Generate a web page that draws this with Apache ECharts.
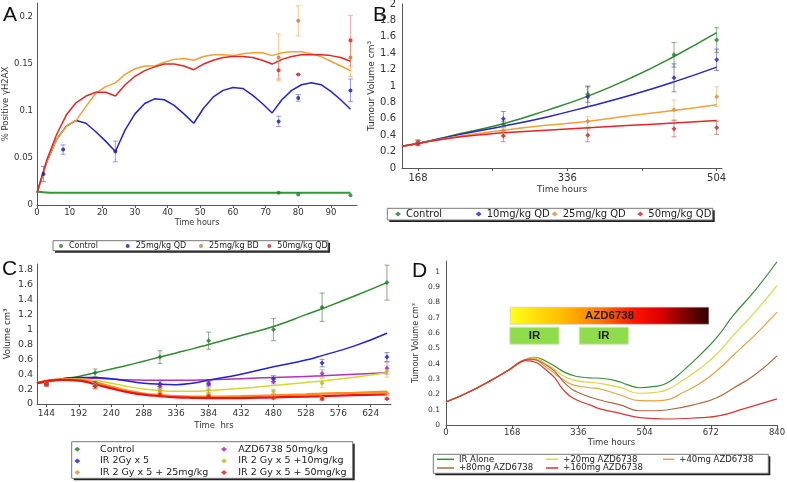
<!DOCTYPE html>
<html>
<head>
<meta charset="utf-8">
<script src="https://cdn.jsdelivr.net/npm/echarts@6/dist/echarts.min.js"></script>
<style>
html, body { margin: 0; padding: 0; background: #fff; }
#chart { width: 787px; height: 482px; }
</style>
</head>
<body>
<div id="chart"></div>
<script>
// ---------- A: % positive yH2AX, 0-96 h ----------
const aHours = [0, 3, 6, 9, 12, 15, 18, 21, 24, 27, 30, 33, 36, 39, 42, 45, 48, 51, 54, 57, 60, 63, 66, 69, 72, 75, 78, 81, 84, 87, 90, 93, 96];
const aQd25Fit = [0.013, 0.046, 0.070, 0.084, 0.090, 0.087, 0.078, 0.068, 0.057, 0.080, 0.097, 0.108, 0.113, 0.112, 0.106, 0.097, 0.087, 0.103, 0.115, 0.122, 0.125, 0.124, 0.117, 0.108, 0.098, 0.112, 0.122, 0.128, 0.130, 0.128, 0.121, 0.112, 0.102];
const aBd25Fit = [0.013, 0.046, 0.070, 0.084, 0.090, 0.105, 0.119, 0.126, 0.130, 0.139, 0.145, 0.148, 0.148, 0.152, 0.155, 0.156, 0.154, 0.158, 0.160, 0.160, 0.159, 0.161, 0.162, 0.162, 0.159, 0.162, 0.163, 0.163, 0.161, 0.158, 0.153, 0.148, 0.143];
const aQd50Fit = [0.013, 0.048, 0.075, 0.096, 0.109, 0.116, 0.120, 0.120, 0.116, 0.128, 0.137, 0.143, 0.147, 0.150, 0.150, 0.148, 0.144, 0.150, 0.154, 0.157, 0.158, 0.158, 0.157, 0.154, 0.150, 0.155, 0.158, 0.160, 0.160, 0.160, 0.159, 0.157, 0.153];
const aControlFitHours = [0, 4, 96];
const aControlFit = [0.014, 0.013, 0.013];

const aControlT = [74, 80, 96];
const aControlMean = [0.013, 0.0112, 0.0105];
const aQd25T = [2, 8, 24, 74, 80, 96];
const aQd25Mean = [0.033, 0.059, 0.057, 0.089, 0.114, 0.122];
const aQd25Err = [0.008, 0.005, 0.011, 0.0055, 0.0035, 0.012];
const aBd25T = [74, 80, 96];
const aBd25Mean = [0.157, 0.196, 0.157];
const aBd25Err = [0.025, 0.016, 0.02];
const aQd50T = [74, 80, 96];
const aQd50Mean = [0.1435, 0.139, 0.175];
const aQd50Err = [0.0095, 0, 0.027];

const aXTicks = [0, 10, 20, 30, 40, 50, 60, 70, 80, 90];
const aYTicks = [0, 0.05, 0.1, 0.15, 0.2];

// ---------- B: tumour volume, 168-504 h ----------
const bHoursFit = [150, 168, 216, 264, 312, 360, 408, 456, 504];
const bControlFit = [0.265, 0.30, 0.42, 0.54, 0.70, 0.88, 1.10, 1.36, 1.65];
const bQd10Fit = [0.265, 0.30, 0.41, 0.51, 0.62, 0.75, 0.89, 1.05, 1.23];
const bQd25Fit = [0.265, 0.30, 0.39, 0.46, 0.52, 0.57, 0.64, 0.70, 0.77];
const bQd50Fit = [0.265, 0.30, 0.38, 0.43, 0.46, 0.49, 0.52, 0.55, 0.58];

const bHours = [168, 264, 359, 456, 504];
const bControlMean = [0.31, 0.53, 0.90, 1.38, 1.56];
const bControlErr = [0.03, 0.04, 0.10, 0.15, 0.15];
const bQd10Mean = [0.31, 0.60, 0.87, 1.10, 1.32];
const bQd10Err = [0.03, 0.09, 0.12, 0.17, 0.13];
const bQd25Mean = [0.31, 0.45, 0.57, 0.71, 0.87];
const bQd25Err = [0.03, 0.05, 0.06, 0.12, 0.12];
const bQd50Mean = [0.30, 0.39, 0.40, 0.48, 0.49];
const bQd50Err = [0.03, 0.07, 0.08, 0.10, 0.08];

const bXTicks = [168, 336, 504];
const bXTickMarks = [168, 252, 336, 420, 504];
const bYTicks = [0, 0.2, 0.4, 0.6, 0.8, 1, 1.2, 1.4, 1.6, 1.8, 2];

// ---------- C: volume with IR +/- AZD6738 ----------
const cHoursFit = [130, 168, 192, 216, 240, 264, 288, 312, 336, 360, 384, 432, 480, 528, 552, 600, 648];
const cControlFit = [0.28, 0.34, 0.37, 0.42, 0.47, 0.52, 0.575, 0.63, 0.685, 0.74, 0.80, 0.92, 1.04, 1.20, 1.28, 1.45, 1.63];
const cIrFit = [0.28, 0.34, 0.355, 0.355, 0.34, 0.31, 0.28, 0.265, 0.26, 0.28, 0.32, 0.40, 0.50, 0.59, 0.65, 0.78, 0.95];
const cAzdFit = [0.28, 0.34, 0.35, 0.345, 0.335, 0.325, 0.32, 0.318, 0.318, 0.32, 0.325, 0.34, 0.355, 0.37, 0.38, 0.40, 0.42];
const cIr10Fit = [0.28, 0.335, 0.335, 0.32, 0.28, 0.235, 0.20, 0.18, 0.17, 0.17, 0.18, 0.21, 0.25, 0.29, 0.31, 0.36, 0.42];
const cIr25Fit = [0.28, 0.33, 0.325, 0.29, 0.235, 0.18, 0.14, 0.12, 0.105, 0.10, 0.10, 0.105, 0.115, 0.13, 0.14, 0.15, 0.165];
const cIr50Fit = [0.28, 0.325, 0.315, 0.265, 0.21, 0.16, 0.125, 0.105, 0.09, 0.083, 0.08, 0.08, 0.09, 0.10, 0.105, 0.12, 0.13];

const cHours = [144, 216, 312, 384, 480, 552, 648];
const cControlMean = [0.27, 0.42, 0.63, 0.85, 1.00, 1.30, 1.63];
const cControlErr = [0.03, 0.05, 0.085, 0.115, 0.15, 0.19, 0.235];
const cIrMean = [0.27, 0.27, 0.27, 0.27, 0.34, 0.55, 0.63];
const cIrErr = [0.03, 0.03, 0.04, 0.03, 0.04, 0.05, 0.06];
const cAzdMean = [0.27, 0.26, 0.24, 0.28, 0.30, 0.41, 0.48];
const cAzdErr = [0.02, 0.03, 0.03, 0.03, 0.03, 0.05, 0.08];
const cIr10Mean = [0.27, 0.26, 0.18, 0.19, 0.17, 0.28, 0.44];
const cIr10Err = [0.02, 0.03, 0.03, 0.03, 0.03, 0.06, 0.08];
const cIr25Mean = [0.27, 0.24, 0.16, 0.13, 0.11, 0.08, 0.14];
const cIr25Err = [0.02, 0.04, 0.03, 0.02, 0.02, 0.02, 0.02];
const cIr50Mean = [0.27, 0.24, 0.12, 0.10, 0.08, 0.07, 0.07];
const cIr50Err = [0.02, 0.03, 0.02, 0.02, 0.01, 0.02, 0.01];

const cXTicks = [144, 192, 240, 288, 336, 384, 432, 480, 528, 576, 624];
const cYTicks = [0, 0.2, 0.4, 0.6, 0.8, 1, 1.2, 1.4, 1.6, 1.8];

// ---------- D: simulated tumour volume ----------
const dIrAlone = [[0, 0.15], [70, 0.23], [154, 0.35], [190, 0.41], [222, 0.442], [262, 0.405], [300, 0.345], [330, 0.318], [365, 0.308], [391, 0.305], [430, 0.29], [462, 0.262], [492, 0.243], [525, 0.25], [560, 0.272], [600, 0.35], [645, 0.458], [690, 0.58], [729, 0.715], [785, 0.88], [840, 1.065]];
const dPlus20 = [[0, 0.15], [70, 0.23], [154, 0.35], [190, 0.41], [218, 0.438], [260, 0.39], [300, 0.318], [330, 0.29], [365, 0.278], [391, 0.272], [442, 0.245], [492, 0.207], [530, 0.213], [560, 0.229], [600, 0.29], [645, 0.37], [690, 0.47], [729, 0.585], [785, 0.74], [840, 0.91]];
const dPlus40 = [[0, 0.15], [70, 0.23], [154, 0.35], [190, 0.41], [214, 0.433], [258, 0.37], [295, 0.30], [323, 0.262], [365, 0.243], [391, 0.235], [442, 0.196], [492, 0.159], [530, 0.158], [560, 0.164], [600, 0.21], [645, 0.272], [690, 0.36], [729, 0.455], [785, 0.59], [840, 0.737]];
const dPlus80 = [[0, 0.15], [70, 0.23], [154, 0.35], [190, 0.415], [208, 0.428], [264, 0.375], [306, 0.262], [340, 0.207], [391, 0.163], [442, 0.131], [492, 0.093], [530, 0.093], [560, 0.098], [645, 0.142], [687, 0.178], [729, 0.24], [785, 0.33], [840, 0.451]];
const dPlus160 = [[0, 0.15], [70, 0.23], [154, 0.35], [185, 0.405], [202, 0.42], [264, 0.338], [298, 0.229], [323, 0.174], [365, 0.131], [391, 0.105], [442, 0.076], [492, 0.048], [560, 0.039], [645, 0.048], [695, 0.061], [755, 0.105], [840, 0.17]];
const dDrugWindow = [163, 667];
const dIrWindows = [[162, 287], [338, 463]];

const dXTicks = [0, 168, 336, 504, 672, 840];
const dYTicks = [0, 0.1, 0.2, 0.3, 0.4, 0.5, 0.6, 0.7, 0.8, 0.9, 1];

// ---------- helpers ----------
const FONT = 'DejaVu Sans';
const AX = '#555';

function pairs(xs, ys) { return xs.map((x, i) => [x, ys[i]]); }
function ranges(xs, ys, es) { return xs.map((x, i) => [x, ys[i] - es[i], ys[i] + es[i]]); }

function fitLine(g, xs, ys, color, width, smooth) {
    return {
        type: 'line', xAxisIndex: g, yAxisIndex: g, data: pairs(xs, ys),
        showSymbol: false, smooth: smooth, silent: true, z: 2,
        lineStyle: { color: color, width: width }, itemStyle: { color: color }
    };
}
function dots(g, name, xs, ys, color, symbol, size) {
    return {
        type: 'scatter', name: name, xAxisIndex: g, yAxisIndex: g, data: pairs(xs, ys),
        symbol: symbol, symbolSize: size, itemStyle: { color: color }, z: 4, silent: true
    };
}
function errBars(g, xs, ys, es, color) {
    return {
        type: 'custom', xAxisIndex: g, yAxisIndex: g, data: ranges(xs, ys, es), z: 3, silent: true,
        encode: { x: 0, y: [1, 2] },
        renderItem: function (params, api) {
            const x = api.value(0);
            const lo = api.coord([x, api.value(1)]);
            const hi = api.coord([x, api.value(2)]);
            const c = 2.5;
            const st = { stroke: color, lineWidth: 1 };
            return {
                type: 'group', children: [
                    { type: 'line', shape: { x1: lo[0], y1: lo[1], x2: hi[0], y2: hi[1] }, style: st },
                    { type: 'line', shape: { x1: lo[0] - c, y1: lo[1], x2: lo[0] + c, y2: lo[1] }, style: st },
                    { type: 'line', shape: { x1: hi[0] - c, y1: hi[1], x2: hi[0] + c, y2: hi[1] }, style: st }
                ]
            };
        }
    };
}
function axis(o) {
    return {
        type: 'value', gridIndex: o.g, min: o.min, max: o.max,
        name: o.name, nameLocation: 'middle', nameGap: o.nameGap,
        nameTextStyle: { fontFamily: FONT, fontSize: o.nameSize, color: '#333' },
        axisLine: { show: true, onZero: false, lineStyle: { color: AX, width: 1 } },
        axisTick: { show: o.tick !== false, length: 3, lineStyle: { color: AX }, customValues: o.tickMarks || o.ticks },
        axisLabel: {
            customValues: o.ticks, fontFamily: FONT, fontSize: o.labelSize, color: '#333',
            margin: o.margin, formatter: v => '' + v
        },
        splitLine: { show: false }
    };
}
// one legend per entry so each sits where the reference puts it
function legendItem(name, left, top, w, h, icon, fs, textPad) {
    return {
        show: true, left: left, top: top, padding: 0, itemGap: 0, itemWidth: w, itemHeight: h,
        icon: icon, selectedMode: false, data: [name],
        formatter: n => n.split('|')[1],
        textStyle: { fontFamily: FONT, fontSize: fs, color: '#222', padding: [0, 0, 0, textPad || 0] }
    };
}
function legendBox(x, y, w, h) {
    return [
        { type: 'rect', shape: { x: x + 2, y: y + 2, width: w, height: h }, style: { fill: '#222' }, z: 0 },
        { type: 'rect', shape: { x: x, y: y, width: w, height: h }, style: { fill: '#fff', stroke: '#777', lineWidth: 1 }, z: 1 }
    ];
}
function panelLetter(t, x, y) {
    return {
        type: 'text', x: x, y: y, z: 5,
        style: { text: t, fontFamily: 'Liberation Sans', fontSize: 21, fill: '#111', textVerticalAlign: 'top', verticalAlign: 'top' }
    };
}

// ---------- colours ----------
const A_COL = { control: '#2e9a3a', qd25: '#2323d0', bd25: '#f5a033', qd50: '#e52525' };
const B_COL = { control: '#2e8b2e', qd10: '#2424c8', qd25: '#f4a038', qd50: '#e62424' };
const C_COL = { control: '#2e8b2e', ir: '#2020dd', azd: '#b030c0', ir10: '#d6d630', ir25: '#f59020', ir50: '#f01010' };
const D_COL = { alone: '#3a8a40', p20: '#d8d848', p40: '#eea040', p80: '#b06840', p160: '#dd3535' };

const chart = echarts.init(document.getElementById('chart'), null, { renderer: 'canvas' });

const irLabel = { show: true, position: 'inside', formatter: '{b}', fontFamily: 'Liberation Sans', fontWeight: 'bold', fontSize: 11.5, color: '#222' };
const irStyle = { color: '#8fdc4c', opacity: 1, borderColor: '#cfe8b0', borderWidth: 1 };
const drugGradient = {
    type: 'linear', x: 0, y: 0, x2: 1, y2: 0,
    colorStops: [
        { offset: 0, color: '#ffff1a' }, { offset: 0.25, color: '#ffc000' }, { offset: 0.45, color: '#ff7a00' },
        { offset: 0.62, color: '#ff1500' }, { offset: 0.75, color: '#e00000' }, { offset: 0.9, color: '#700000' },
        { offset: 1, color: '#2e0000' }
    ]
};

const option = {
    animation: false,
    backgroundColor: '#fff',
    grid: [
        { left: 37, top: 3, width: 320, height: 202, containLabel: false, outerBoundsMode: 'none' },
        { left: 402, top: 4, width: 320, height: 164, containLabel: false, outerBoundsMode: 'none' },
        { left: 37, top: 264, width: 354, height: 140, containLabel: false, outerBoundsMode: 'none' },
        { left: 446, top: 261, width: 331, height: 164, containLabel: false, outerBoundsMode: 'none' }
    ],
    xAxis: [
        axis({ g: 0, min: 0, max: 98, ticks: aXTicks, name: 'Time hours', nameGap: 14, nameSize: 8, labelSize: 8.5, margin: 3 }),
        axis({ g: 1, min: 150, max: 510, ticks: bXTicks, tickMarks: bXTickMarks, name: 'Time hours', nameGap: 17, nameSize: 9, labelSize: 10, margin: 5 }),
        axis({ g: 2, min: 130, max: 654, ticks: cXTicks, name: 'Time  hrs', nameGap: 17, nameSize: 8.5, labelSize: 9, margin: 5 }),
        axis({ g: 3, min: 0, max: 840, ticks: dXTicks, name: 'Time hours', nameGap: 11, nameSize: 8.5, labelSize: 8.5, margin: 3 })
    ],
    yAxis: [
        axis({ g: 0, min: 0, max: 0.215, ticks: aYTicks, name: '% Positive γH2AX', nameGap: 17, nameSize: 8.5, labelSize: 8.5, margin: 4, tick: false }),
        axis({ g: 1, min: 0, max: 2, ticks: bYTicks, name: 'Tumour Volume cm³', nameGap: 14, nameSize: 9, labelSize: 10, margin: 6, tick: false }),
        axis({ g: 2, min: 0, max: 1.88, ticks: cYTicks, name: 'Volume cm³', nameGap: 25, nameSize: 8.5, labelSize: 9.5, margin: 4, tick: false }),
        axis({ g: 3, min: 0, max: 1.07, ticks: dYTicks, name: 'Tumour Volume cm³', nameGap: 26, nameSize: 8, labelSize: 7.5, margin: 6, tick: false })
    ],
    legend: [
        legendItem('A|Control', 59, 242, 6, 4, 'circle', 8),
        legendItem('A|25mg/kg QD', 125.7, 242, 6, 4, 'circle', 8),
        legendItem('A|25mg/kg BD', 199, 242, 6, 4, 'circle', 8),
        legendItem('A|50mg/kg QD', 267.3, 242, 6, 4, 'circle', 8),

        legendItem('B|Control', 395, 209, 6, 5, 'diamond', 10),
        legendItem('B|10mg/kg QD', 475.7, 209, 6, 5, 'diamond', 10),
        legendItem('B|25mg/kg QD', 551.7, 209, 6, 5, 'diamond', 10),
        legendItem('B|50mg/kg QD', 637.3, 209, 6, 5, 'diamond', 10),

        legendItem('C|Control', 74.3, 444.2, 6, 5, 'diamond', 9.5, 14.7),
        legendItem('C|IR 2Gy x 5', 74.3, 456, 6, 5, 'diamond', 9.5, 14.7),
        legendItem('C|IR 2 Gy x 5 + 25mg/kg', 74.3, 467.6, 6, 5, 'diamond', 9.5, 14.7),
        legendItem('C|AZD6738 50mg/kg', 221, 444.2, 6, 5, 'diamond', 9.5, 6.3),
        legendItem('C|IR 2 Gy x 5 +10mg/kg', 221, 456, 6, 5, 'diamond', 9.5, 6.3),
        legendItem('C|IR 2 Gy x 5 + 50mg/kg', 221, 467.6, 6, 5, 'diamond', 9.5, 6.3),

        legendItem('D|IR Alone', 437, 454.8, 17, 1.5, 'rect', 8.5),
        legendItem('D|+80mg AZD6738', 437, 463.5, 17, 1.5, 'rect', 8.5),
        legendItem('D|+20mg AZD6738', 546, 454.8, 12.3, 1.5, 'rect', 8.5),
        legendItem('D|+160mg AZD6738', 546, 463.5, 12.3, 1.5, 'rect', 8.5),
        legendItem('D|+40mg AZD6738', 663, 454.8, 11.3, 1.5, 'rect', 8.5)
    ],
    graphic: {
        elements: [].concat(
            legendBox(53, 240.7, 275, 10),
            legendBox(387.3, 208.3, 325.4, 11.7),
            legendBox(71.7, 441.7, 281, 36.6),
            legendBox(433.3, 454.3, 335, 19),
            [panelLetter('A', 3, 5), panelLetter('B', 373, 5), panelLetter('C', 2, 259), panelLetter('D', 412, 261)]
        )
    },
    series: [
        // A
        fitLine(0, aControlFitHours, aControlFit, A_COL.control, 2, false),
        fitLine(0, aHours, aQd25Fit, A_COL.qd25, 1.5, false),
        fitLine(0, aHours, aBd25Fit, A_COL.bd25, 1.5, false),
        fitLine(0, aHours, aQd50Fit, A_COL.qd50, 1.5, false),
        errBars(0, aQd25T, aQd25Mean, aQd25Err, 'rgba(90,90,220,0.6)'),
        errBars(0, aBd25T, aBd25Mean, aBd25Err, 'rgba(240,160,60,0.6)'),
        errBars(0, aQd50T, aQd50Mean, aQd50Err, 'rgba(230,80,90,0.45)'),
        dots(0, 'A|Control', aControlT, aControlMean, '#227a2a', 'circle', 4),
        dots(0, 'A|25mg/kg QD', aQd25T, aQd25Mean, '#1a1aa0', 'circle', 4),
        dots(0, 'A|25mg/kg BD', aBd25T, aBd25Mean, '#c87838', 'circle', 4),
        dots(0, 'A|50mg/kg QD', aQd50T, aQd50Mean, '#cc2030', 'circle', 4),

        // B
        fitLine(1, bHoursFit, bControlFit, B_COL.control, 1.5, true),
        fitLine(1, bHoursFit, bQd10Fit, B_COL.qd10, 1.5, true),
        fitLine(1, bHoursFit, bQd25Fit, B_COL.qd25, 1.5, true),
        fitLine(1, bHoursFit, bQd50Fit, B_COL.qd50, 1.5, true),
        errBars(1, bHours, bControlMean, bControlErr, 'rgba(60,120,60,0.6)'),
        errBars(1, bHours, bQd10Mean, bQd10Err, 'rgba(70,70,150,0.6)'),
        errBars(1, bHours, bQd25Mean, bQd25Err, 'rgba(240,170,100,0.6)'),
        errBars(1, bHours, bQd50Mean, bQd50Err, 'rgba(180,80,80,0.6)'),
        dots(1, 'B|Control', bHours, bControlMean, '#227a2a', 'diamond', 5),
        dots(1, 'B|10mg/kg QD', bHours, bQd10Mean, '#2020c0', 'diamond', 5),
        dots(1, 'B|25mg/kg QD', bHours, bQd25Mean, '#e08840', 'diamond', 5),
        dots(1, 'B|50mg/kg QD', bHours, bQd50Mean, '#d02020', 'diamond', 5),

        // C
        fitLine(2, cHoursFit, cControlFit, C_COL.control, 1.5, true),
        fitLine(2, cHoursFit, cAzdFit, C_COL.azd, 1.5, true),
        fitLine(2, cHoursFit, cIrFit, C_COL.ir, 1.5, true),
        fitLine(2, cHoursFit, cIr10Fit, C_COL.ir10, 1.5, true),
        fitLine(2, cHoursFit, cIr25Fit, C_COL.ir25, 2.2, true),
        fitLine(2, cHoursFit, cIr50Fit, C_COL.ir50, 2.2, true),
        errBars(2, cHours, cControlMean, cControlErr, 'rgba(60,120,60,0.6)'),
        errBars(2, cHours, cIrMean, cIrErr, 'rgba(70,70,180,0.6)'),
        errBars(2, cHours, cAzdMean, cAzdErr, 'rgba(170,80,190,0.5)'),
        errBars(2, cHours, cIr10Mean, cIr10Err, 'rgba(200,200,60,0.6)'),
        errBars(2, cHours, cIr25Mean, cIr25Err, 'rgba(240,150,60,0.6)'),
        errBars(2, cHours, cIr50Mean, cIr50Err, 'rgba(220,60,60,0.6)'),
        dots(2, 'C|Control', cHours, cControlMean, '#227a2a', 'diamond', 5),
        dots(2, 'C|IR 2Gy x 5', cHours, cIrMean, '#1a1ad0', 'diamond', 5),
        dots(2, 'C|AZD6738 50mg/kg', cHours, cAzdMean, '#a020b0', 'diamond', 5),
        dots(2, 'C|IR 2 Gy x 5 +10mg/kg', cHours, cIr10Mean, '#b8b820', 'diamond', 5),
        dots(2, 'C|IR 2 Gy x 5 + 25mg/kg', cHours, cIr25Mean, '#e88a30', 'diamond', 5),
        dots(2, 'C|IR 2 Gy x 5 + 50mg/kg', cHours, cIr50Mean, '#e01818', 'diamond', 5),

        // D
        {
            type: 'line', name: 'D|IR Alone', xAxisIndex: 3, yAxisIndex: 3, data: dIrAlone,
            showSymbol: false, smooth: true, silent: true,
            lineStyle: { color: D_COL.alone, width: 1.2 }, itemStyle: { color: D_COL.alone },
            markArea: {
                silent: true,
                data: [
                    [{ name: 'AZD6738', xAxis: dDrugWindow[0], yAxis: 0.658, itemStyle: { color: drugGradient, opacity: 1, borderColor: '#bbb', borderWidth: 0.5 }, label: irLabel },
                     { xAxis: dDrugWindow[1], yAxis: 0.769 }],
                    [{ name: 'IR', xAxis: dIrWindows[0][0], yAxis: 0.527, itemStyle: irStyle, label: irLabel },
                     { xAxis: dIrWindows[0][1], yAxis: 0.638 }],
                    [{ name: 'IR', xAxis: dIrWindows[1][0], yAxis: 0.527, itemStyle: irStyle, label: irLabel },
                     { xAxis: dIrWindows[1][1], yAxis: 0.638 }]
                ]
            }
        },
        { type: 'line', name: 'D|+20mg AZD6738', xAxisIndex: 3, yAxisIndex: 3, data: dPlus20, showSymbol: false, smooth: true, silent: true,
          lineStyle: { color: D_COL.p20, width: 1.2 }, itemStyle: { color: D_COL.p20 } },
        { type: 'line', name: 'D|+40mg AZD6738', xAxisIndex: 3, yAxisIndex: 3, data: dPlus40, showSymbol: false, smooth: true, silent: true,
          lineStyle: { color: D_COL.p40, width: 1.2 }, itemStyle: { color: D_COL.p40 } },
        { type: 'line', name: 'D|+80mg AZD6738', xAxisIndex: 3, yAxisIndex: 3, data: dPlus80, showSymbol: false, smooth: true, silent: true,
          lineStyle: { color: D_COL.p80, width: 1.2 }, itemStyle: { color: D_COL.p80 } },
        { type: 'line', name: 'D|+160mg AZD6738', xAxisIndex: 3, yAxisIndex: 3, data: dPlus160, showSymbol: false, smooth: true, silent: true,
          lineStyle: { color: D_COL.p160, width: 1.2 }, itemStyle: { color: D_COL.p160 } }
    ]
};

chart.setOption(option);
</script>
</body>
</html>
